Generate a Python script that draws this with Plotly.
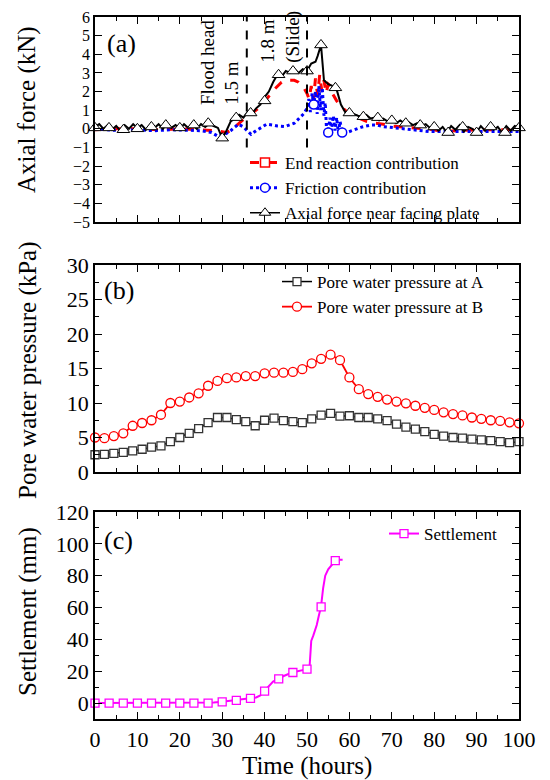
import plotly.graph_objects as go

# ---------------- data ----------------
# Panel (a): axial force components (kN) vs time (hours)
t_axial = [0, 1, 2, 3, 4, 5, 6, 7, 8, 9, 10, 11, 12, 13, 14, 15, 16, 17, 18, 19, 20,
           21, 22, 23, 24, 25, 26, 27, 28, 29, 30, 31, 32, 33, 34, 35, 36, 37, 38, 39, 40,
           41, 42, 43, 44, 45, 46, 47, 48, 49, 50, 51, 52, 52.5, 53.3, 53.7, 54, 55, 56, 57, 58,
           59, 60, 61, 62, 63, 64, 65, 66, 67, 68, 69, 70, 71, 72, 73, 74, 75, 76, 77, 78,
           79, 80, 81, 82, 83, 84, 85, 86, 87, 88, 89, 90, 91, 92, 93, 94, 95, 96, 97, 98, 99, 100]
f_axial = [0.1, 0.25, 0.0, 0.2, -0.05, 0.15, -0.1, 0.2, 0.0, 0.25, 0.05, 0.2, -0.05, 0.2, 0.05, 0.25, 0.0, 0.3, 0.05, 0.2, 0.0,
           0.25, 0.05, 0.2, 0.0, 0.25, 0.1, 0.3, 0.15, 0.05, -0.5, -0.1, 0.4, 0.55, 0.75, 0.6, 0.9, 0.8, 1.1, 1.3, 1.7,
           2.0, 2.5, 2.9, 2.8, 3.1, 3.0, 3.2, 3.0, 3.2, 3.1, 3.5, 3.6, 3.9, 4.5, 3.2, 2.6, 2.4, 2.3, 2.1, 1.3,
           0.9, 0.85, 0.8, 0.7, 0.65, 0.75, 0.55, 0.6, 0.45, 0.55, 0.4, 0.5, 0.3, 0.45, 0.3, 0.35, 0.2, 0.3, 0.15, 0.25,
           0.05, 0.15, -0.1, 0.1, -0.2, 0.15, -0.05, 0.2, -0.15, 0.1, 0.0, -0.2, 0.15, -0.1, 0.2, -0.05, 0.1, -0.2, 0.15, -0.1, 0.15, 0.05]
t_axial_mk = [0, 3.3, 6.7, 10, 13.3, 16.7, 20, 23.3, 26.7, 30, 33.3, 36.7, 40, 43.3, 46.7, 50,
              53.3, 56.7, 60, 63.3, 66.7, 70, 73.3, 76.7, 80, 83.3, 86.7, 90, 93.3, 96.7, 100]
f_axial_mk = [0.05, 0.05, -0.05, 0.0, 0.1, 0.2, 0.05, 0.2, 0.3, -0.5, 0.6, 0.85, 1.5, 2.9, 3.1, 3.1,
              4.5, 2.2, 0.85, 0.65, 0.6, 0.45, 0.3, 0.2, 0.1, -0.2, 0.1, -0.2, 0.1, -0.2, 0.05]

t_end = [0, 5, 10, 15, 20, 25, 28, 30, 31, 32, 33, 34, 35, 36, 37, 38, 39, 40, 41, 42, 43, 44, 45, 46,
         47, 48, 49, 50, 50.5, 51, 51.5, 52, 52.5, 53, 53.5, 54, 54.5, 55, 55.5, 56, 57, 58, 59, 60,
         62, 64, 66, 68, 70, 73, 76, 80, 82, 85, 90, 95, 100]
f_end = [-0.05, 0.0, 0.0, -0.05, 0.0, -0.05, -0.1, -0.15, -0.2, -0.1, 0.1, 0.3, 0.55, 0.7, 0.85, 1.0, 1.2, 1.45, 1.75, 2.05, 2.3, 2.5, 2.6, 2.62,
         2.6, 2.5, 2.3, 1.9, 1.6, 2.3, 1.5, 2.7, 1.8, 2.9, 2.0, 2.6, 1.9, 2.4, 2.3, 1.9, 1.5, 1.2, 1.0, 0.8,
         0.6, 0.4, 0.3, 0.25, 0.15, 0.1, 0.05, -0.05, -0.15, -0.1, -0.05, -0.05, -0.05]

t_fric = [0, 3, 6, 10, 14, 18, 22, 25, 27.5, 29, 30, 31, 32, 33, 33.8, 35, 36, 36.8, 38, 39, 40.5, 42, 43,
          44.8, 46, 47, 48.3, 49.2, 50, 50.4, 50.8, 51.2, 51.6, 52, 52.4, 52.8, 53.2, 53.6, 54, 54.3, 54.6,
          55, 55.4, 55.8, 56.2, 56.6, 57, 57.4, 57.8, 58.3, 59.4, 61, 63, 65, 66.5, 68, 71, 74, 76, 79,
          82, 86, 90, 95, 100]
f_fric = [0.0, -0.05, -0.1, -0.05, -0.1, -0.05, -0.1, -0.1, -0.2, -0.4, -0.35, -0.25, -0.1, 0.1, 0.25, 0.1, -0.15, -0.3, -0.1, 0.05, 0.25, 0.2, 0.15,
          0.12, 0.2, 0.3, 0.6, 0.8, 1.1, 1.6, 0.9, 1.9, 1.3, 2.0, 0.8, 2.3, 1.0, 2.2, 0.7, 1.4, 0.0,
          -0.2, 0.6, -0.1, 0.7, -0.1, 0.6, -0.2, 0.4, -0.2, -0.2, -0.05, 0.1, 0.2, 0.2, 0.12, 0.05, -0.05, -0.1, -0.15,
          -0.15, -0.15, -0.15, -0.15, -0.15]
t_fric_mk = [51.6, 55.0, 58.3]
f_fric_mk = [1.3, -0.2, -0.2]

event_times = [35.8, 50.0]

# Panel (b): pore water pressure (kPa)
t_pwp = [0, 2.22, 4.44, 6.67, 8.89, 11.11, 13.33, 15.56, 17.78, 20, 22.22, 24.44, 26.67, 28.89, 31.11,
         33.33, 35.56, 37.78, 40, 42.22, 44.44, 46.67, 48.89, 51.11, 53.33, 55.56, 57.78, 60, 62.22,
         64.44, 66.67, 68.89, 71.11, 73.33, 75.56, 77.78, 80, 82.22, 84.44, 86.67, 88.89, 91.11, 93.33,
         95.56, 97.78, 100]
pwp_A = [2.5, 2.55, 2.7, 2.85, 3.05, 3.3, 3.6, 3.8, 4.4, 5.0, 5.6, 6.3, 7.15, 7.9, 7.9, 7.6, 7.3, 6.7,
         7.5, 7.8, 7.45, 7.3, 7.15, 7.7, 8.25, 8.5, 8.1, 8.15, 7.9, 7.9, 7.7, 7.45, 6.95, 6.5, 6.2, 5.85,
         5.45, 5.2, 5.0, 4.9, 4.75, 4.65, 4.55, 4.4, 4.25, 4.4]
pwp_B = [5.0, 4.9, 5.2, 5.6, 6.7, 7.1, 7.5, 8.3, 10.0, 10.2, 10.8, 11.4, 12.5, 13.2, 13.6, 13.7, 13.9,
         13.9, 14.3, 14.4, 14.4, 14.5, 14.9, 15.75, 16.4, 17.0, 16.2, 13.7, 12.0, 11.3, 10.9, 10.5, 10.2,
         9.95, 9.6, 9.3, 9.0, 8.65, 8.4, 8.2, 7.9, 7.7, 7.5, 7.4, 7.2, 7.05]

# Panel (c): settlement (mm)
t_settle = [0, 5, 10, 15, 20, 25, 28, 30, 33, 35, 36.6, 38, 39, 40, 41, 42, 43.2, 44.5, 46.5, 48, 50,
            50.6, 51, 51.5, 52.3, 52.8, 53.3, 53.8, 54.3, 55, 56, 56.7, 57.5, 58.4]
s_settle = [0, 0, 0, 0, 0, 0, 0.3, 0.8, 1.7, 2.3, 2.9, 3.5, 4.8, 7.5, 10.5, 13.5, 15.2, 17.0, 19.2, 20.0, 21.3,
            22.5, 39.0, 42.5, 49.0, 55.0, 60.4, 72.0, 80.0, 84.0, 87.0, 89.4, 90.0, 90.0]
t_settle_mk = [0, 3.33, 6.67, 10, 13.33, 16.67, 20, 23.33, 26.67, 30, 33.33, 36.67, 40, 43.33, 46.67, 50,
               53.33, 56.67]
s_settle_mk = [0, 0, 0, 0, 0, 0, 0, 0, 0, 0.8, 1.7, 2.9, 7.5, 15.2, 19.2, 21.3, 60.4, 89.4]

# ---------------- styling helpers ----------------
W, H = 550, 780
FONT = "Liberation Serif, Times New Roman, serif"


def px(xp):
    return xp / W


def py(yp):
    return 1 - yp / H


RED, BLUE, BLACK, MAG = "#ff0000", "#0000ff", "#000000", "#ff00ff"

fig = go.Figure()

# ---- panel (a) ----
fig.add_trace(go.Scatter(x=t_end, y=f_end, mode="lines", xaxis="x", yaxis="y",
                         line=dict(color=RED, width=3, dash="dash"), showlegend=False))
fig.add_trace(go.Scatter(x=t_fric, y=f_fric, mode="lines", xaxis="x", yaxis="y",
                         line=dict(color=BLUE, width=3, dash="dot"), showlegend=False))
fig.add_trace(go.Scatter(x=t_fric_mk, y=f_fric_mk, mode="markers", xaxis="x", yaxis="y",
                         marker=dict(symbol="circle", size=9, color="white", line=dict(color=BLUE, width=1.5)),
                         showlegend=False))
fig.add_trace(go.Scatter(x=t_axial, y=f_axial, mode="lines", xaxis="x", yaxis="y",
                         line=dict(color=BLACK, width=2), showlegend=False))
fig.add_trace(go.Scatter(x=t_axial_mk, y=f_axial_mk, mode="markers", xaxis="x", yaxis="y", cliponaxis=False,
                         marker=dict(symbol="triangle-up", size=11, color="white", line=dict(color=BLACK, width=1)),
                         showlegend=False))
# legend entries for panel (a)
fig.add_trace(go.Scatter(x=[None], y=[None], mode="lines+markers", name="End reaction contribution",
                         xaxis="x", yaxis="y", legend="legend",
                         line=dict(color=RED, width=3, dash="dash"),
                         marker=dict(symbol="square", size=9, color="white", line=dict(color=RED, width=1.5))))
fig.add_trace(go.Scatter(x=[None], y=[None], mode="lines+markers", name="Friction contribution",
                         xaxis="x", yaxis="y", legend="legend",
                         line=dict(color=BLUE, width=3, dash="dot"),
                         marker=dict(symbol="circle", size=9, color="white", line=dict(color=BLUE, width=1.5))))
fig.add_trace(go.Scatter(x=[None], y=[None], mode="lines+markers", name="Axial force near facing plate",
                         xaxis="x", yaxis="y", legend="legend",
                         line=dict(color=BLACK, width=1.5),
                         marker=dict(symbol="triangle-up", size=10, color="white", line=dict(color=BLACK, width=1))))

# ---- panel (b) ----
fig.add_trace(go.Scatter(x=t_pwp, y=pwp_A, mode="lines+markers", name="Pore water pressure at A",
                         xaxis="x2", yaxis="y2", legend="legend2", cliponaxis=False,
                         line=dict(color=BLACK, width=1.5),
                         marker=dict(symbol="square", size=8, color="white", line=dict(color="#333333", width=1.3))))
fig.add_trace(go.Scatter(x=t_pwp, y=pwp_B, mode="lines+markers", name="Pore water pressure at B",
                         xaxis="x2", yaxis="y2", legend="legend2", cliponaxis=False,
                         line=dict(color=RED, width=1.8),
                         marker=dict(symbol="circle", size=9, color="white", line=dict(color=RED, width=1.3))))

# ---- panel (c) ----
fig.add_trace(go.Scatter(x=t_settle, y=s_settle, mode="lines", xaxis="x3", yaxis="y3",
                         line=dict(color=MAG, width=2), showlegend=False))
fig.add_trace(go.Scatter(x=t_settle_mk, y=s_settle_mk, mode="markers", xaxis="x3", yaxis="y3", cliponaxis=False,
                         marker=dict(symbol="square", size=8, color="white", line=dict(color=MAG, width=1.3)),
                         showlegend=False))
fig.add_trace(go.Scatter(x=[None], y=[None], mode="lines+markers", name="Settlement",
                         xaxis="x3", yaxis="y3", legend="legend3",
                         line=dict(color=MAG, width=2),
                         marker=dict(symbol="square", size=8, color="white", line=dict(color=MAG, width=1.3))))

tickfont = dict(family=FONT, size=22, color="black")
common = dict(showline=True, linecolor="black", linewidth=1.5, mirror="ticks", ticks="inside",
              ticklen=7, tickwidth=1.3, tickcolor="black", showgrid=False, zeroline=False,
              tickfont=tickfont, automargin=False)
xdom = [px(95), px(519)]
xcommon = dict(common, range=[0, 100], tick0=0, dtick=10, domain=xdom,
               minor=dict(ticks="inside", dtick=5, ticklen=4, tickwidth=1.2, tickcolor="black", showgrid=False))

legfont = dict(family=FONT, size=17, color="black")
legcommon = dict(font=legfont, bgcolor="rgba(0,0,0,0)", borderwidth=0, xanchor="left", yanchor="top",
                 tracegroupgap=0)


def title_font(size):
    return dict(family=FONT, size=size, color="black")


annots = [
    # axis titles
    dict(text="Axial force (kN)", x=px(27), y=py(110), xref="paper", yref="paper", textangle=-90,
         xanchor="center", yanchor="middle", showarrow=False, font=title_font(25)),
    dict(text="Pore water pressure (kPa)", x=px(28), y=py(370), xref="paper", yref="paper", textangle=-90,
         xanchor="center", yanchor="middle", showarrow=False, font=title_font(25)),
    dict(text="Settlement (mm)", x=px(28), y=py(612), xref="paper", yref="paper", textangle=-90,
         xanchor="center", yanchor="middle", showarrow=False, font=title_font(25)),
    dict(text="Time (hours)", x=0.5, xref="x3 domain", y=py(766), yref="paper",
         xanchor="center", yanchor="middle", showarrow=False, font=title_font(25)),
    # panel labels
    dict(text="(a)", x=px(121), y=py(43), xref="paper", yref="paper", showarrow=False,
         xanchor="center", yanchor="middle", font=title_font(26)),
    dict(text="(b)", x=px(119), y=py(290), xref="paper", yref="paper", showarrow=False,
         xanchor="center", yanchor="middle", font=title_font(26)),
    dict(text="(c)", x=px(118), y=py(540), xref="paper", yref="paper", showarrow=False,
         xanchor="center", yanchor="middle", font=title_font(26)),
    # flood head annotations
    dict(text="Flood head", x=26.6, y=1.18, xref="x", yref="y", textangle=-90, xanchor="center",
         yanchor="bottom", showarrow=False, font=title_font(19)),
    dict(text="1.5 m", x=32.3, y=1.18, xref="x", yref="y", textangle=-90, xanchor="center",
         yanchor="bottom", showarrow=False, font=title_font(19)),
    dict(text="1.8 m", x=40.8, y=3.44, xref="x", yref="y", textangle=-90, xanchor="center",
         yanchor="bottom", showarrow=False, font=title_font(19)),
    dict(text="(Slide)", x=46.7, y=3.44, xref="x", yref="y", textangle=-90, xanchor="center",
         yanchor="bottom", showarrow=False, font=title_font(19)),
]

shapes = [dict(type="line", xref="x", yref="y", x0=t, x1=t, y0=-1.0, y1=6,
               line=dict(color="black", width=2, dash="dash")) for t in event_times]

fig.update_layout(
    width=W, height=H, autosize=False,
    margin=dict(l=0, r=0, t=0, b=0),
    paper_bgcolor="white", plot_bgcolor="white",
    font=dict(family=FONT, color="black"),
    xaxis=dict(xcommon, anchor="y", showticklabels=False),
    xaxis2=dict(xcommon, anchor="y2", showticklabels=False),
    xaxis3=dict(xcommon, anchor="y3", showticklabels=True),
    yaxis=dict(common, anchor="x", domain=[py(222), py(17)], range=[-5, 6], tick0=0, dtick=1,
               tickfont=dict(family=FONT, size=16, color="black")),
    yaxis2=dict(common, anchor="x2", domain=[py(472), py(265)], range=[0, 30], tick0=0, dtick=5,
                minor=dict(ticks="inside", dtick=2.5, ticklen=4, tickwidth=1.2, tickcolor="black", showgrid=False)),
    yaxis3=dict(common, anchor="x3", domain=[py(719), py(512)], range=[-10, 120], tick0=0, dtick=20,
                minor=dict(ticks="inside", dtick=10, ticklen=4, tickwidth=1.2, tickcolor="black", showgrid=False)),
    legend=dict(legcommon, x=px(245), y=py(145)),
    legend2=dict(legcommon, x=px(277), y=py(264)),
    legend3=dict(legcommon, x=px(384), y=py(516)),
    annotations=annots,
    shapes=shapes,
)

fig.write_html("out.html", config={"displayModeBar": False},
               post_script="document.body.style.margin='0';")
